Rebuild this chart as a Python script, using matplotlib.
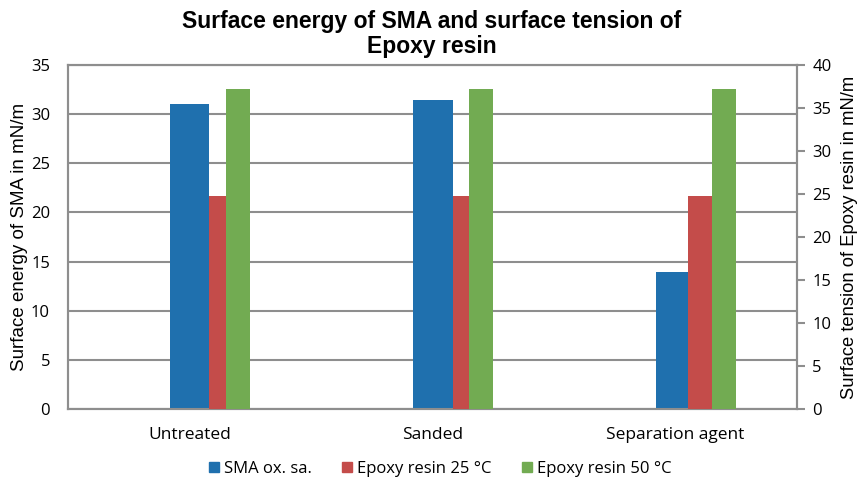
import numpy as np
import matplotlib
matplotlib.use("Agg")
import matplotlib.pyplot as plt
from matplotlib.patches import Patch

categories = ["Untreated", "Sanded", "Separation agent"]
sma = [31.0, 31.4, 13.9]          # left axis, mN/m
epoxy_25 = [24.8, 24.8, 24.8]     # right axis, mN/m
epoxy_50 = [37.2, 37.2, 37.2]     # right axis, mN/m

c_blue = "#1f70ae"
c_red = "#c44c4a"
c_green = "#72ab52"
grid_c = "#8e8e8e"
arial = ["Liberation Sans", "DejaVu Sans"]

plt.rcParams["font.family"] = ["Open Sans", "DejaVu Sans"]

fig = plt.figure(figsize=(8.63, 4.86), dpi=100)
ax = fig.add_axes([0.0788, 0.1584, 0.8447, 0.7079])
ax2 = ax.twinx()

x = np.arange(len(categories))
# visible bar extents inside each group (category units)
blue_left = -0.082
blue_right = np.array([0.080, 0.084, 0.051])
red_right = 0.150
green_right = 0.251

ax.bar(x + blue_left, sma, width=blue_right - blue_left, align="edge", color=c_blue, zorder=3)
ax2.bar(x + blue_right, epoxy_25, width=red_right - blue_right, align="edge", color=c_red, zorder=3)
ax2.bar(x + red_right, epoxy_50, width=green_right - red_right, align="edge", color=c_green, zorder=3)

ax.set_xlim(-0.5, 2.5)
ax.set_ylim(0, 35)
ax2.set_ylim(0, 40)
ax.set_yticks(np.arange(0, 36, 5))
ax2.set_yticks(np.arange(0, 41, 5))
ax.set_xticks(x)
ax.set_xticklabels(categories, fontsize=12.5)
ax.yaxis.grid(True, color=grid_c, lw=1.5, zorder=0)
ax.set_axisbelow(True)

for a in (ax, ax2):
    for s in a.spines.values():
        s.set_color(grid_c)
        s.set_linewidth(1.5)
ax.tick_params(axis="y", length=0, labelsize=12, pad=13)
ax.tick_params(axis="x", length=0, labelsize=12.5, pad=13)
ax2.tick_params(axis="y", length=6, width=1.5, color=grid_c, labelsize=12, pad=5)

ax.set_ylabel("Surface energy of SMA in mN/m", fontsize=13.5, family=arial, labelpad=2)
ax2.set_ylabel("Surface tension of Epoxy resin in mN/m", fontsize=13.2, family=arial, labelpad=7)

fig.suptitle("Surface energy of SMA and surface tension of\nEpoxy resin",
             fontsize=16.5, fontweight="bold", family=arial,
             y=0.979, linespacing=1.1)

handles = [Patch(color=c_blue, label="SMA ox. sa."),
           Patch(color=c_red, label="Epoxy resin 25 °C"),
           Patch(color=c_green, label="Epoxy resin 50 °C")]
fig.legend(handles=handles, loc="center", bbox_to_anchor=(0.51, 0.035), ncol=3,
           frameon=False, fontsize=12, handlelength=0.6, handleheight=0.6,
           handletextpad=0.3, columnspacing=1.8)

fig.savefig("out.png", dpi=100)
